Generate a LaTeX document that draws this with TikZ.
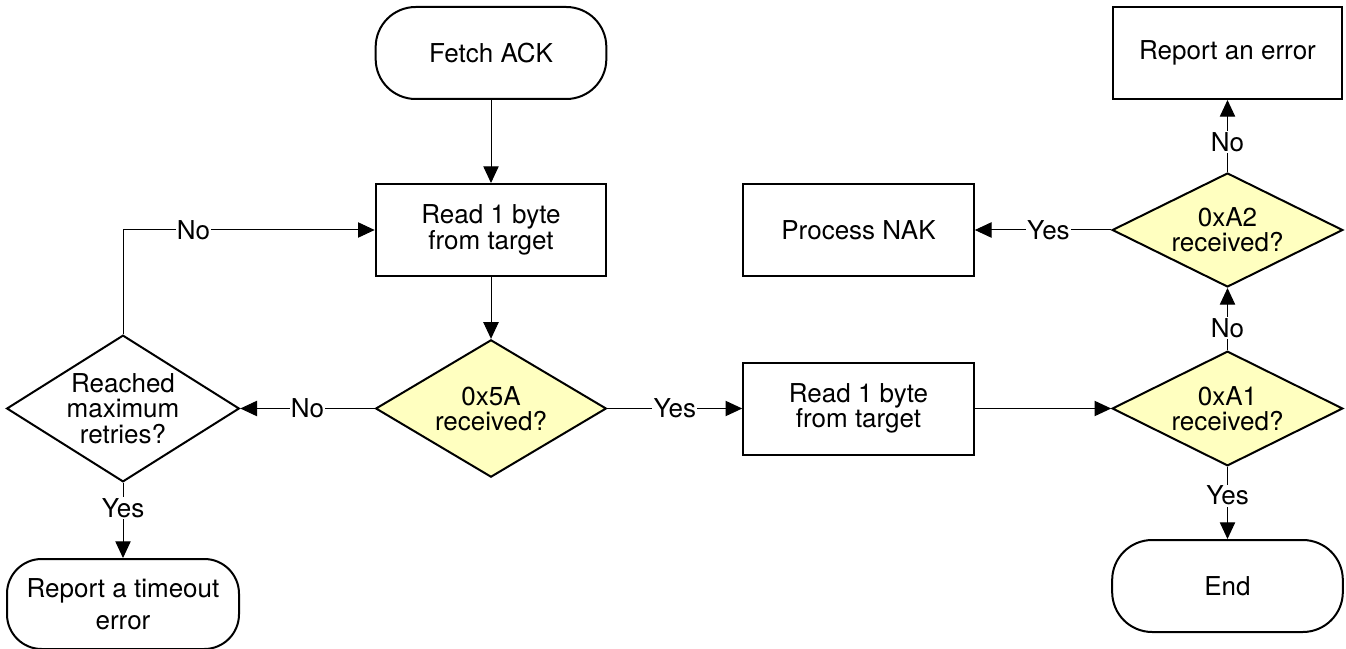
\documentclass[tikz,border=0pt]{standalone}
\usepackage{fontspec}
\setmainfont{TeX Gyre Heros}
\usetikzlibrary{shapes.geometric,arrows.meta}
\definecolor{decfill}{RGB}{255,255,192}

\tikzset{every picture/.style={line width=0.75pt}}
\tikzset{
  box/.style={draw, line width=1.5pt, minimum width=173pt, minimum height=69pt, inner sep=0pt, align=center, font=\fontsize{19.5}{19}\selectfont},
  term/.style={box, rounded corners=30pt},
  dec/.style={draw, diamond, fill=decfill, line width=1.5pt, aspect=2, inner sep=0pt, align=center, font=\fontsize{19.5}{19}\selectfont},
  conn/.style={-{Triangle[length=12.5pt,width=11.5pt]}},
  lbl/.style={fill=white, inner sep=1pt, font=\fontsize{19.5}{19}\selectfont},
}

\begin{document}
\begin{tikzpicture}[x=0.75pt,y=0.75pt,yscale=-1,xscale=1]
\useasboundingbox (0,0) rectangle (1346,649);

%Shape: Terminal
\node[term] (fetch) at (491,53) {Fetch ACK};
%Shape: Rectangle
\node[box] (read1) at (491,230) {Read 1 byte\\from target};
%Shape: Diamond
\node[dec, minimum width=173pt, minimum height=103pt, aspect=1.6] (chk5a) at (491,408.5) {0x5A\\received?};
%Shape: Diamond
\node[dec, fill=white, minimum width=174.5pt, minimum height=110pt, aspect=1.6] (retry) at (123,408.5) {Reached\\maximum\\retries?};
%Shape: Terminal
\node[term, rounded corners=26pt, minimum width=174pt, minimum height=67.5pt, font=\fontsize{19.5}{24}\selectfont] (timeout) at (123,604) {Report a timeout\\error};
%Shape: Rectangle
\node[box] (read2) at (858.5,408.5) {Read 1 byte\\from target};
%Shape: Diamond
\node[dec, minimum width=173pt, minimum height=86pt] (chka1) at (1227.5,408.5) {0xA1\\received?};
%Shape: Diamond
\node[dec, minimum width=173pt, minimum height=85.5pt] (chka2) at (1227.5,230) {0xA2\\received?};
%Shape: Terminal
\node[term] (fin) at (1227.5,586) {End};
%Shape: Rectangle
\node[box] (nak) at (858.5,230) {Process NAK};
%Shape: Rectangle
\node[box, minimum width=172pt] (report) at (1227.5,53) {Report an error};

%Straight Lines
\draw[conn] (fetch) -- (read1);
\draw[conn] (read1) -- (chk5a);
\draw[conn] (chk5a) -- node[lbl] {No} (retry);
\draw[conn] (retry.north) |- node[lbl, pos=0.64] {No} (read1.west);
\draw[conn] (retry) -- node[lbl, pos=0.34] {Yes} (timeout);
\draw[conn] (chk5a) -- node[lbl] {Yes} (read2);
\draw[conn] (read2) -- (chka1);
\draw[conn] (chka1) -- node[lbl, pos=0.36] {No} (chka2);
\draw[conn] (chka1) -- node[lbl, pos=0.4] {Yes} (fin);
\draw[conn] (chka2) -- node[lbl, pos=0.46] {Yes} (nak);
\draw[conn] (chka2) -- node[lbl, pos=0.42] {No} (report);

\end{tikzpicture}
\end{document}
